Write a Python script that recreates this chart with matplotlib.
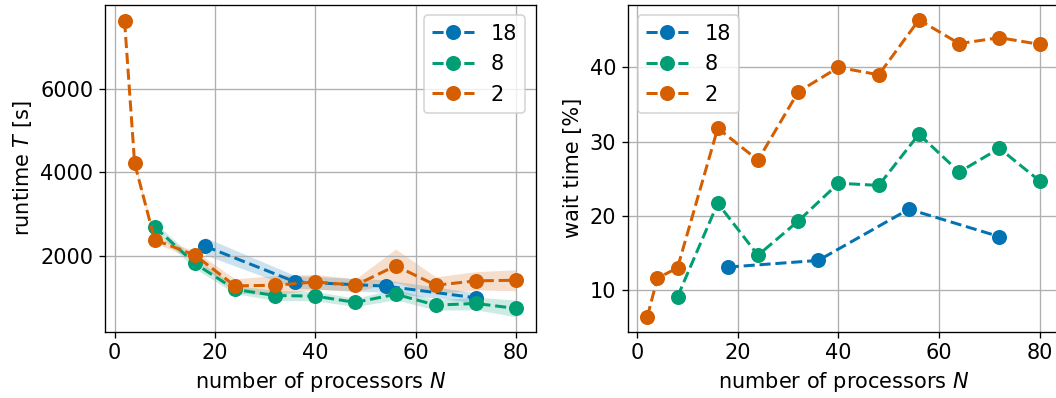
import matplotlib.pyplot as plt
import numpy as np

# seaborn "colorblind" palette entries
C_BLUE = "#0173b2"
C_GREEN = "#029e73"
C_ORANGE = "#d55e00"

# number of processors per run, one list per group size
n_18 = [18, 36, 54, 72]
n_8 = [8, 16, 24, 32, 40, 48, 56, 64, 72, 80]
n_2 = [2, 4, 8, 16, 24, 32, 40, 48, 56, 64, 72, 80]

# runtime T [s] (mean and spread)
runtime_18 = [2240, 1385, 1285, 1005]
runtime_18_std = [210, 150, 150, 120]
runtime_8 = [2700, 1825, 1205, 1060, 1045, 895, 1090, 830, 870, 750]
runtime_8_std = [100, 120, 100, 120, 110, 100, 130, 120, 150, 200]
runtime_2 = [7615, 4220, 2390, 2025, 1290, 1305, 1385, 1305, 1770, 1305, 1410, 1425]
runtime_2_std = [30, 60, 80, 100, 170, 230, 180, 150, 400, 200, 220, 250]

# wait time [%]
wait_18 = [13.1, 14.0, 20.9, 17.2]
wait_8 = [9.1, 21.7, 14.7, 19.3, 24.4, 24.1, 31.0, 25.9, 29.1, 24.7]
wait_2 = [6.4, 11.6, 13.0, 31.8, 27.5, 36.7, 40.0, 39.0, 46.4, 43.2, 44.0, 43.1]

labels = ["18", "8", "2"]
colors = [C_BLUE, C_GREEN, C_ORANGE]

plt.rcParams["font.size"] = 12.5
plt.rcParams["lines.linewidth"] = 1.8

fig = plt.figure(figsize=(8.8, 398 / 120), dpi=120)
W, H = 1056, 398
ax1 = fig.add_axes([105 / W, 1 - 331.7 / H, 430.7 / W, 326.7 / H])
ax2 = fig.add_axes([627.7 / W, 1 - 331.7 / H, 431.6 / W, 326.7 / H])

runs = [(n_18, runtime_18, runtime_18_std, wait_18),
        (n_8, runtime_8, runtime_8_std, wait_8),
        (n_2, runtime_2, runtime_2_std, wait_2)]

for (n, t, s, w), lab, col in zip(runs, labels, colors):
    n = np.array(n)
    t = np.array(t)
    s = np.array(s)
    ax1.fill_between(n, t - s, t + s, color=col, alpha=0.2, linewidth=0)
    ax1.plot(n, t, "--o", color=col, label=lab, markersize=8)
    ax2.plot(n, w, "--o", color=col, label=lab, markersize=8)

ax1.set_xlabel("number of processors $N$")
ax1.set_ylabel("runtime $T$ [s]")
ax1.set_xticks([0, 20, 40, 60, 80])
ax1.set_yticks([2000, 4000, 6000])
ax1.grid(True)
ax1.legend(loc="upper right")

ax2.set_xlabel("number of processors $N$")
ax2.set_ylabel("wait time [%]")
ax2.set_xticks([0, 20, 40, 60, 80])
ax2.set_yticks([10, 20, 30, 40])
ax2.grid(True)
ax2.legend(loc="upper left")

fig.savefig("out.png", dpi=120)
